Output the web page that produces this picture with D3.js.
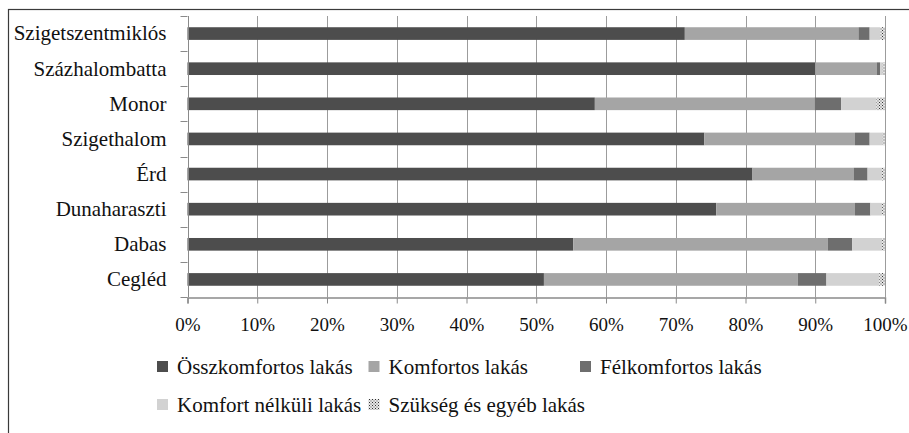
<!DOCTYPE html>
<html>
<head>
<meta charset="utf-8">
<script src="https://cdn.jsdelivr.net/npm/d3@7"></script>
<style>
  html, body { margin: 0; padding: 0; background: #fff; }
  svg { display: block; }
  svg text { font-family: "Liberation Serif", "Times New Roman", serif; }
</style>
</head>
<body>
<script>
// Lakásállomány komfortfokozat szerint (%), településenként

const CITIES = ["Szigetszentmiklós", "Százhalombatta", "Monor", "Szigethalom", "Érd", "Dunaharaszti", "Dabas", "Cegléd"];
const SERIES = ["Összkomfortos lakás", "Komfortos lakás", "Félkomfortos lakás", "Komfort nélküli lakás", "Szükség és egyéb lakás"];

const OSSZKOMFORTOS = [71.3, 90.0, 58.4, 74.1, 81.0, 75.8, 55.3, 51.1];
const KOMFORTOS     = [24.9,  8.8, 31.5, 21.6, 14.5, 19.9, 36.5, 36.4];
const FELKOMFORTOS  = [ 1.6,  0.5,  3.8,  2.1,  2.0,  2.2,  3.5,  4.1];
const KOMFORT_NELK  = [ 1.5,  0.4,  5.1,  1.9,  2.1,  1.7,  4.3,  7.6];
const SZUKSEG       = [ 0.7,  0.3,  1.2,  0.3,  0.4,  0.4,  0.4,  0.8];

const X_TICKS = [0, 10, 20, 30, 40, 50, 60, 70, 80, 90, 100];

const FILLS = ["#4d4d4d", "#a5a5a5", "#6e6e6e", "#d2d2d2", "url(#dots)"];

const width = 909, height = 433;
const margin = { top: 16, right: 24, bottom: 136, left: 187.5 };
const FS = 21;      // category + legend labels
const FS_TICK = 19; // percent labels

const rows = CITIES.map((c, i) => ({
  city: c,
  "Összkomfortos lakás": OSSZKOMFORTOS[i],
  "Komfortos lakás": KOMFORTOS[i],
  "Félkomfortos lakás": FELKOMFORTOS[i],
  "Komfort nélküli lakás": KOMFORT_NELK[i],
  "Szükség és egyéb lakás": SZUKSEG[i]
}));

const svg = d3.select("body").append("svg")
  .attr("width", width)
  .attr("height", height);

// dotted pattern for the last series
const defs = svg.append("defs");
const pat = defs.append("pattern")
  .attr("id", "dots")
  .attr("width", 3).attr("height", 3)
  .attr("patternUnits", "userSpaceOnUse");
pat.append("rect").attr("width", 3).attr("height", 3).attr("fill", "#e6e6e6");
pat.append("rect").attr("x", 0).attr("y", 0).attr("width", 1).attr("height", 1).attr("fill", "#333");
pat.append("rect").attr("x", 1.5).attr("y", 1.5).attr("width", 1).attr("height", 1).attr("fill", "#555");

svg.append("rect").attr("width", width).attr("height", height).attr("fill", "#fff");

// outer frame (runs off the right and bottom edge)
svg.append("rect")
  .attr("x", 8.5).attr("y", 9.5)
  .attr("width", width + 10).attr("height", height + 10)
  .attr("fill", "none")
  .attr("stroke", "#3a3a3a")
  .attr("stroke-width", 1.2);

const x = d3.scaleLinear().domain([0, 100]).range([margin.left, width - margin.right]);
const y = d3.scaleBand().domain(CITIES).range([margin.top, height - margin.bottom])
  .paddingInner(0.64).paddingOuter(0.32);

// gridlines
svg.append("g")
  .selectAll("line")
  .data(X_TICKS.slice(1))
  .join("line")
  .attr("x1", (d) => Math.round(x(d)) + 0.5)
  .attr("x2", (d) => Math.round(x(d)) + 0.5)
  .attr("y1", margin.top)
  .attr("y2", height - margin.bottom)
  .attr("stroke", "#9c9c9c")
  .attr("stroke-width", 1);

// stacked bars
const layers = d3.stack().keys(SERIES)(rows);

svg.append("g")
  .selectAll("g")
  .data(layers)
  .join("g")
  .attr("fill", (d, i) => FILLS[i])
  .selectAll("rect")
  .data((d) => d)
  .join("rect")
  .attr("x", (d) => x(d[0]))
  .attr("y", (d) => y(d.data.city))
  .attr("width", (d) => x(d[1]) - x(d[0]))
  .attr("height", y.bandwidth());

// y axis: line, ticks at category boundaries, labels
const yAxisG = svg.append("g");
yAxisG.append("line")
  .attr("x1", Math.round(x(0)) + 0.5).attr("x2", Math.round(x(0)) + 0.5)
  .attr("y1", margin.top).attr("y2", height - margin.bottom)
  .attr("stroke", "#8a8a8a");
const bounds = d3.range(CITIES.length + 1).map((i) => y.range()[0] + i * y.step());
yAxisG.selectAll("line.tick")
  .data(bounds)
  .join("line")
  .attr("class", "tick")
  .attr("x1", x(0) - 7).attr("x2", x(0))
  .attr("y1", (d) => Math.round(d) + 0.5).attr("y2", (d) => Math.round(d) + 0.5)
  .attr("stroke", "#8a8a8a");
yAxisG.selectAll("text")
  .data(CITIES)
  .join("text")
  .attr("x", x(0) - 21)
  .attr("y", (d) => y(d) + y.bandwidth() / 2)
  .attr("dy", "0.33em")
  .attr("text-anchor", "end")
  .attr("font-size", FS)
  .attr("fill", "#111")
  .text((d) => d);

// x axis
const xAxis = d3.axisBottom(x)
  .tickValues(X_TICKS)
  .tickSize(6)
  .tickPadding(14)
  .tickFormat((d) => d + "%");
const xg = svg.append("g")
  .attr("transform", `translate(0,${Math.round(height - margin.bottom) + 0.5})`)
  .call(xAxis);
xg.attr("font-family", null);
xg.select(".domain").attr("stroke", "#8a8a8a").attr("stroke-width", 1.5);
xg.selectAll(".tick line").attr("stroke", "#8a8a8a");
xg.selectAll(".tick text")
  .attr("font-size", FS_TICK)
  .attr("fill", "#111");

// legend
const legend = svg.append("g");
SERIES.forEach((name, i) => {
  const col = i % 3, row = Math.floor(i / 3);
  const lx = 157 + col * 211.5;
  const ly = 367 + row * 38;
  legend.append("rect")
    .attr("x", lx).attr("y", ly - 6)
    .attr("width", 11).attr("height", 11)
    .attr("fill", FILLS[i]);
  legend.append("text")
    .attr("x", lx + 20).attr("y", ly)
    .attr("dy", "0.33em")
    .attr("font-size", FS)
    .attr("fill", "#111")
    .text(name);
});
</script>
</body>
</html>
